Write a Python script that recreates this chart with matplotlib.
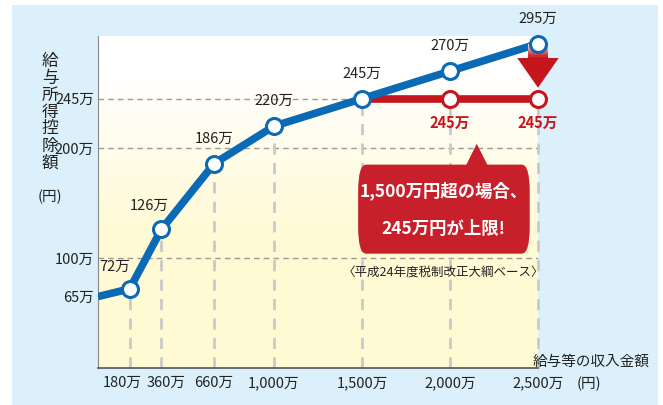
import numpy as np
import matplotlib
matplotlib.use("Agg")
import matplotlib.pyplot as plt
from matplotlib.patches import Rectangle, FancyBboxPatch, Polygon
from matplotlib.transforms import ScaledTranslation

plt.rcParams['font.family'] = ['Noto Sans CJK JP', 'DejaVu Sans']

# data (万円)
income = [0, 180, 360, 660, 1000, 1500, 2000, 2500]
deduct = [65, 72, 126, 186, 220, 245, 270, 295]
cap_x = [1500, 2000, 2500]
cap_y = [245, 245, 245]
yticks = [65, 100, 200, 245]
ytick_labels = ["65万", "100万", "200万", "245万"]
xtick_labels = ["180万", "360万", "660万", "1,000万", "1,500万", "2,000万", "2,500万"]

BLUE = "#0a6ab6"
RED = "#c4161c"
TXT = "#222222"
W, H = 663, 405

fig = plt.figure(figsize=(W / 100, H / 100), dpi=100, facecolor="white")
fig.patches.append(Rectangle((12 / W, 0), 646 / W, 400 / H, transform=fig.transFigure,
                             facecolor="#dcf0fb", edgecolor="none", zorder=-10))
ax = fig.add_axes([98 / W, 1 - 368 / H, 440 / W, 332 / H])
ax.set_xlim(0, 2500)
ax.set_ylim(0, 302)
ax.patch.set_alpha(0)

# gradient background white -> pale yellow
grad = np.linspace(0, 1, 256).reshape(-1, 1)
g = np.clip((grad - 0.1) / 0.5, 0, 1)
top = np.array([1.0, 1.0, 1.0]); bot = np.array([1.0, 0.980, 0.835])
img = top + (bot - top) * g[..., None]
ax.imshow(img, extent=(0, 2500, 0, 302), aspect="auto", origin="upper", zorder=0)

# grid lines
for y, x1 in [(245, 1500), (200, 2500), (100, 2500)]:
    ax.plot([0, x1], [y, y], ls=(0, (4, 3)), color="#9a9a9a", lw=1.0, zorder=1)
tops = deduct[1:5] + [245, 245, 245]
for x, t in zip(income[1:], tops):
    ax.plot([x, x], [0, t], ls=(0, (4, 3)), color="#c9c9c9", lw=2.0, zorder=1, clip_on=False)

# lines
ax.plot(cap_x, cap_y, color=RED, lw=5.5, zorder=3, solid_capstyle="butt")
ax.plot(income, deduct, color=BLUE, lw=5.5, zorder=4, solid_capstyle="butt")

# down arrow at 2500 (shaft with light gradient on top, solid head)
axx, sw, hw = 2500, 58, 118
head = Polygon([(axx - hw, 282), (axx + hw, 282), (axx, 255)], closed=True,
               facecolor="#c4161c", edgecolor="none", zorder=4.5, clip_on=False)
ax.add_patch(head)
c0 = np.array([0.98, 0.86, 0.86]); c1 = np.array([0.80, 0.10, 0.12])
n = 12
for i in range(n):
    y0 = 294 - (i + 1) * 12 / n
    col = c0 + (c1 - c0) * (i + 1) / n
    ax.add_patch(Rectangle((axx - sw, y0), 2 * sw, 12 / n + 0.3, facecolor=col,
                           edgecolor="none", zorder=4.5, clip_on=False))

ax.plot(income[1:], deduct[1:], "o", ms=11.5, mfc="white", mec=BLUE, mew=2.2, zorder=5,
        clip_on=False)
ax.plot(cap_x[1:], cap_y[1:], "o", ms=11.5, mfc="white", mec=RED, mew=2.2, zorder=5,
        clip_on=False)

# value labels
offs = [(-11, 11), (-9, 12), (0, 13), (0, 13), (0, 13), (0, 13), (0, 13)]
for x, y, o in zip(income[1:], deduct[1:], offs):
    ax.annotate(f"{y}万", (x, y), xytext=o, textcoords="offset points", ha="center",
                va="bottom", fontsize=10.5, color=TXT, annotation_clip=False, zorder=6)
for x, y in zip(cap_x[1:], cap_y[1:]):
    ax.annotate(f"{y}万", (x, y), xytext=(0, -12), textcoords="offset points", ha="center",
                va="top", fontsize=10.5, fontweight="bold", color=RED, zorder=6)

# callout
box = FancyBboxPatch((1478, 104), 975, 81, boxstyle="round,pad=0,rounding_size=45",
                     mutation_aspect=0.55, facecolor="#c8202a", edgecolor="none", zorder=6)
ax.add_patch(box)
ax.add_patch(Polygon([(2090, 184), (2215, 184), (2152, 204)], closed=True,
                     facecolor="#c8202a", edgecolor="none", zorder=6))
ax.text(1965, 161, "1,500万円超の場合、", ha="center", va="center", fontsize=12.5,
        fontweight="bold", color="white", zorder=7)
ax.text(1965, 126, "245万円が上限!", ha="center", va="center", fontsize=12.5,
        fontweight="bold", color="white", zorder=7)
ax.text(1960, 86, "〈平成24年度税制改正大綱ベース〉", ha="center", va="center", fontsize=9,
        color=TXT, zorder=7)

# axes styling
for s in ["top", "right"]:
    ax.spines[s].set_visible(False)
ax.spines["left"].set_color("#8a8a8a")
ax.spines["bottom"].set_color("#555555")
ax.spines["bottom"].set_linewidth(1.2)
ax.set_yticks(yticks, ytick_labels, fontsize=10.5, color=TXT)
ax.set_xticks(income[1:], xtick_labels, fontsize=10.5, color=TXT)
ax.tick_params(length=0, pad=3)
ax.tick_params(axis="x", pad=6)
shifts = [-7, 5, 0, 0, 0, 0, 0]
for lab, dx in zip(ax.get_xticklabels(), shifts):
    lab.set_transform(lab.get_transform() + ScaledTranslation(dx / 100, 0, fig.dpi_scale_trans))

# axis titles
fig.text(50 / W, 1 - 112 / H, "\n".join("給与所得控除額"), ha="center", va="center",
         fontsize=12, linespacing=1.0, color=TXT)
fig.text(50 / W, 1 - 197 / H, "(円)", ha="center", va="center", fontsize=10.5, color=TXT)
fig.text(591 / W, 1 - 362 / H, "給与等の収入金額", ha="center", va="center", fontsize=10.5,
         color=TXT)
fig.text(589 / W, 1 - 384 / H, "(円)", ha="center", va="center", fontsize=10.5, color=TXT)

fig.savefig("out.png", dpi=100, facecolor="white")
